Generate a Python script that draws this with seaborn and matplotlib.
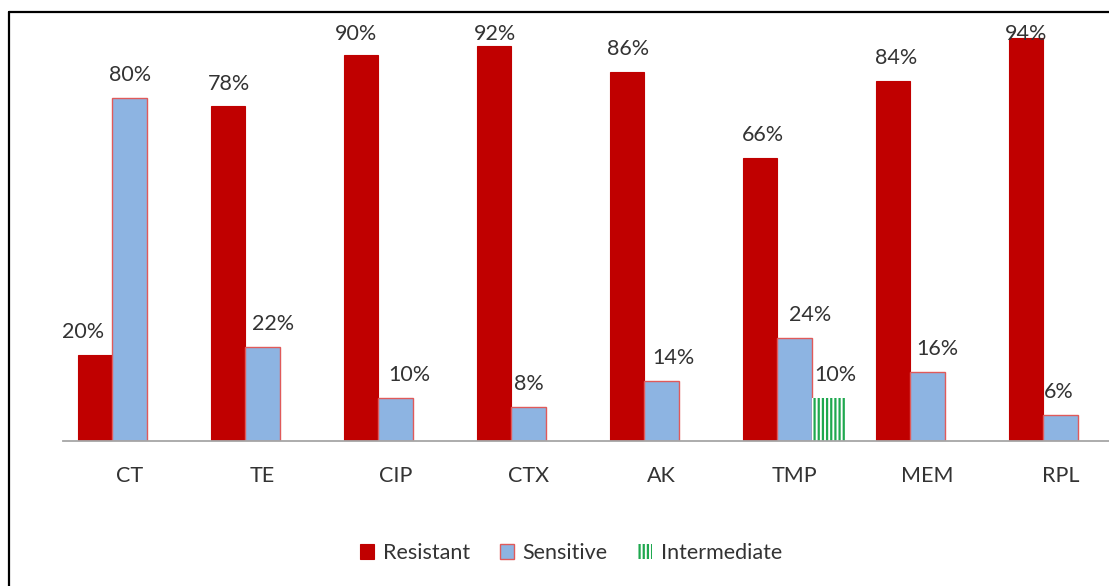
import numpy as np
import pandas as pd
import matplotlib
matplotlib.use("Agg")
import matplotlib.pyplot as plt
import seaborn as sns
from matplotlib.lines import Line2D

# --- data ---
antibiotics = ["CT", "TE", "CIP", "CTX", "AK", "TMP", "MEM", "RPL"]
resistant = [20, 78, 90, 92, 86, 66, 84, 94]
sensitive = [80, 22, 10, 8, 14, 24, 16, 6]
intermediate = [0, 0, 0, 0, 0, 10, 0, 0]
groups = ["Resistant", "Sensitive", "Intermediate"]

# hand nudges of the data labels (pixels), as placed in the original
label_dx = {
    "Resistant": [-12, 1, -5, 1, 1, 3, 3, 0],
    "Sensitive": [1, 11, 14, 0, 12, 16, 10, -2],
    "Intermediate": [0, 0, 0, 0, 0, 7, 0, 0],
}

df = pd.DataFrame({
    "antibiotic": antibiotics * 3,
    "group": np.repeat(groups, len(antibiotics)),
    "pct": resistant + sensitive + intermediate,
})

sns.set_style("white")
plt.rcParams["font.family"] = ["Lato", "DejaVu Sans"]
plt.rcParams["hatch.linewidth"] = 1.6
text_col = "#333333"

fig = plt.figure(figsize=(11.09, 5.86), dpi=100)
ax = fig.add_axes([63 / 1109, 1 - 441 / 586, 1 - 63 / 1109, (441 - 12) / 586])

sns.barplot(data=df, x="antibiotic", y="pct", hue="group", hue_order=groups,
            order=antibiotics, width=0.77, palette=["#C00000", "#8DB4E2", "white"],
            saturation=1, ax=ax, legend=False)

# styling of each series
res_c, sen_c, int_c = ax.containers
for p in res_c.patches:
    p.set_edgecolor("#C00000")
    p.set_linewidth(0.8)
for p in sen_c.patches:
    p.set_edgecolor("#E05A5A")
    p.set_linewidth(1.0)
for p in int_c.patches:
    p.set_facecolor("white")
    p.set_edgecolor("#1FA84F")
    p.set_hatch("||||")
    p.set_linewidth(0)

# value labels above bars, skipping empty ones
for g, cont in zip(groups, ax.containers):
    for i, p in enumerate(cont.patches):
        h = p.get_height()
        if h <= 0:
            continue
        y = min(h + 3.0, 92.5)
        ax.annotate(f"{h:.0f}%", (p.get_x() + p.get_width() / 2, y),
                    xytext=(label_dx[g][i] * 0.72, 0), textcoords="offset points",
                    ha="center", va="bottom", fontsize=15.5, color=text_col,
                    annotation_clip=False)

ax.set_ylim(0, 100)
ax.set_xlim(-0.5, 7.5 - 18 / 133)
ax.set_xlabel("")
ax.set_ylabel("")
ax.set_yticks([])
ax.tick_params(axis="x", length=0, pad=18, labelsize=15.5, labelcolor=text_col)
for s in ["top", "right", "left"]:
    ax.spines[s].set_visible(False)
ax.spines["bottom"].set_color("#A6A6A6")
ax.spines["bottom"].set_linewidth(1.3)
ax.patch.set_alpha(0)

fig.legend(handles=[res_c, sen_c, int_c], labels=groups, loc="center",
           bbox_to_anchor=(571 / 1109, 1 - 553 / 586), ncol=3, frameon=False,
           fontsize=15.5, handlelength=0.65, handleheight=0.65,
           handletextpad=0.4, columnspacing=1.4, labelcolor=text_col)

# chart frame (left and top edges visible in the crop)
fig.add_artist(Line2D([8.5 / 1109, 8.5 / 1109], [0, 1 - 12 / 586],
                      transform=fig.transFigure, color="black", lw=1.6))
fig.add_artist(Line2D([8.5 / 1109, 1], [1 - 12 / 586, 1 - 12 / 586],
                      transform=fig.transFigure, color="black", lw=1.6))

fig.savefig("out.png", dpi=100)
